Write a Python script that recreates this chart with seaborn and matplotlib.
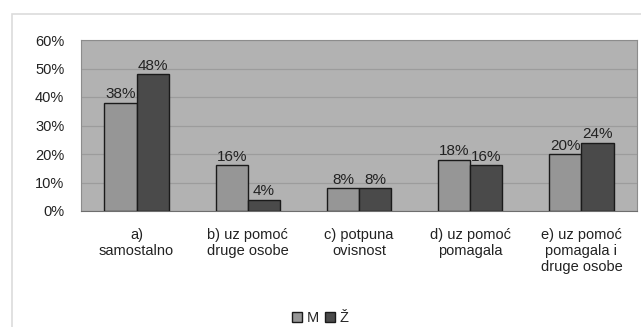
import pandas as pd
import seaborn as sns
import matplotlib.pyplot as plt
from matplotlib.patches import Rectangle

# data
categories = ["a)\nsamostalno", "b) uz pomoć\ndruge osobe", "c) potpuna\novisnost",
              "d) uz pomoć\npomagala", "e) uz pomoć\npomagala i\ndruge osobe"]
m_values = [38, 16, 8, 18, 20]
z_values = [48, 4, 8, 16, 24]
series = ["M", "Ž"]
y_ticks = [0, 10, 20, 30, 40, 50, 60]

df = pd.DataFrame({
    "kategorija": categories * 2,
    "spol": ["M"] * len(categories) + ["Ž"] * len(categories),
    "postotak": m_values + z_values,
})

sns.set_style("white")
plt.rcParams["font.family"] = ["Liberation Sans", "DejaVu Sans"]

fig = plt.figure(figsize=(6.41, 3.27), dpi=100)
fig.patch.set_facecolor("white")
# outer chart frame
fig.patches.append(Rectangle((12 / 641, -0.01), 0.99, 1 - 14 / 327 + 0.01,
                             transform=fig.transFigure, fill=False,
                             edgecolor="#dcdcdc", linewidth=1.2))

ax = fig.add_axes([81 / 641, 1 - 211 / 327, 556 / 641, 171 / 327])
ax.set_facecolor("#b2b2b2")

sns.barplot(data=df, x="kategorija", y="postotak", hue="spol", hue_order=series,
            palette=["#969696", "#4a4a4a"], width=0.58, edgecolor="#1a1a1a",
            linewidth=1.0, ax=ax, zorder=3)

for cont in ax.containers:
    ax.bar_label(cont, fmt="%d%%", fontsize=11, color="#222222", padding=1)

ax.set_ylim(0, 60)
ax.set_yticks(y_ticks)
ax.set_yticklabels([f"{v}%" for v in y_ticks], fontsize=10.5, color="#222222")
ax.yaxis.grid(True, color="#9c9c9c", linewidth=0.9, zorder=0)
ax.set_axisbelow(True)
ax.tick_params(axis="x", labelsize=10.5, colors="#222222", length=0, pad=12)
ax.tick_params(axis="y", length=0, pad=12)
for lbl in ax.get_xticklabels():
    lbl.set_linespacing(1.2)
ax.set_xlabel("")
ax.set_ylabel("")
for side in ["top", "right", "left"]:
    ax.spines[side].set_color("#8c8c8c")
ax.spines["bottom"].set_color("#6e6e6e")

leg = ax.legend(loc="center", ncol=2, frameon=False, fontsize=10.5,
                handlelength=0.7, handleheight=0.7, handletextpad=0.3, columnspacing=0.4)
leg.set_bbox_to_anchor((320 / 641, 1 - 318 / 327), transform=fig.transFigure)

fig.savefig("out.png", dpi=100, facecolor="white")
